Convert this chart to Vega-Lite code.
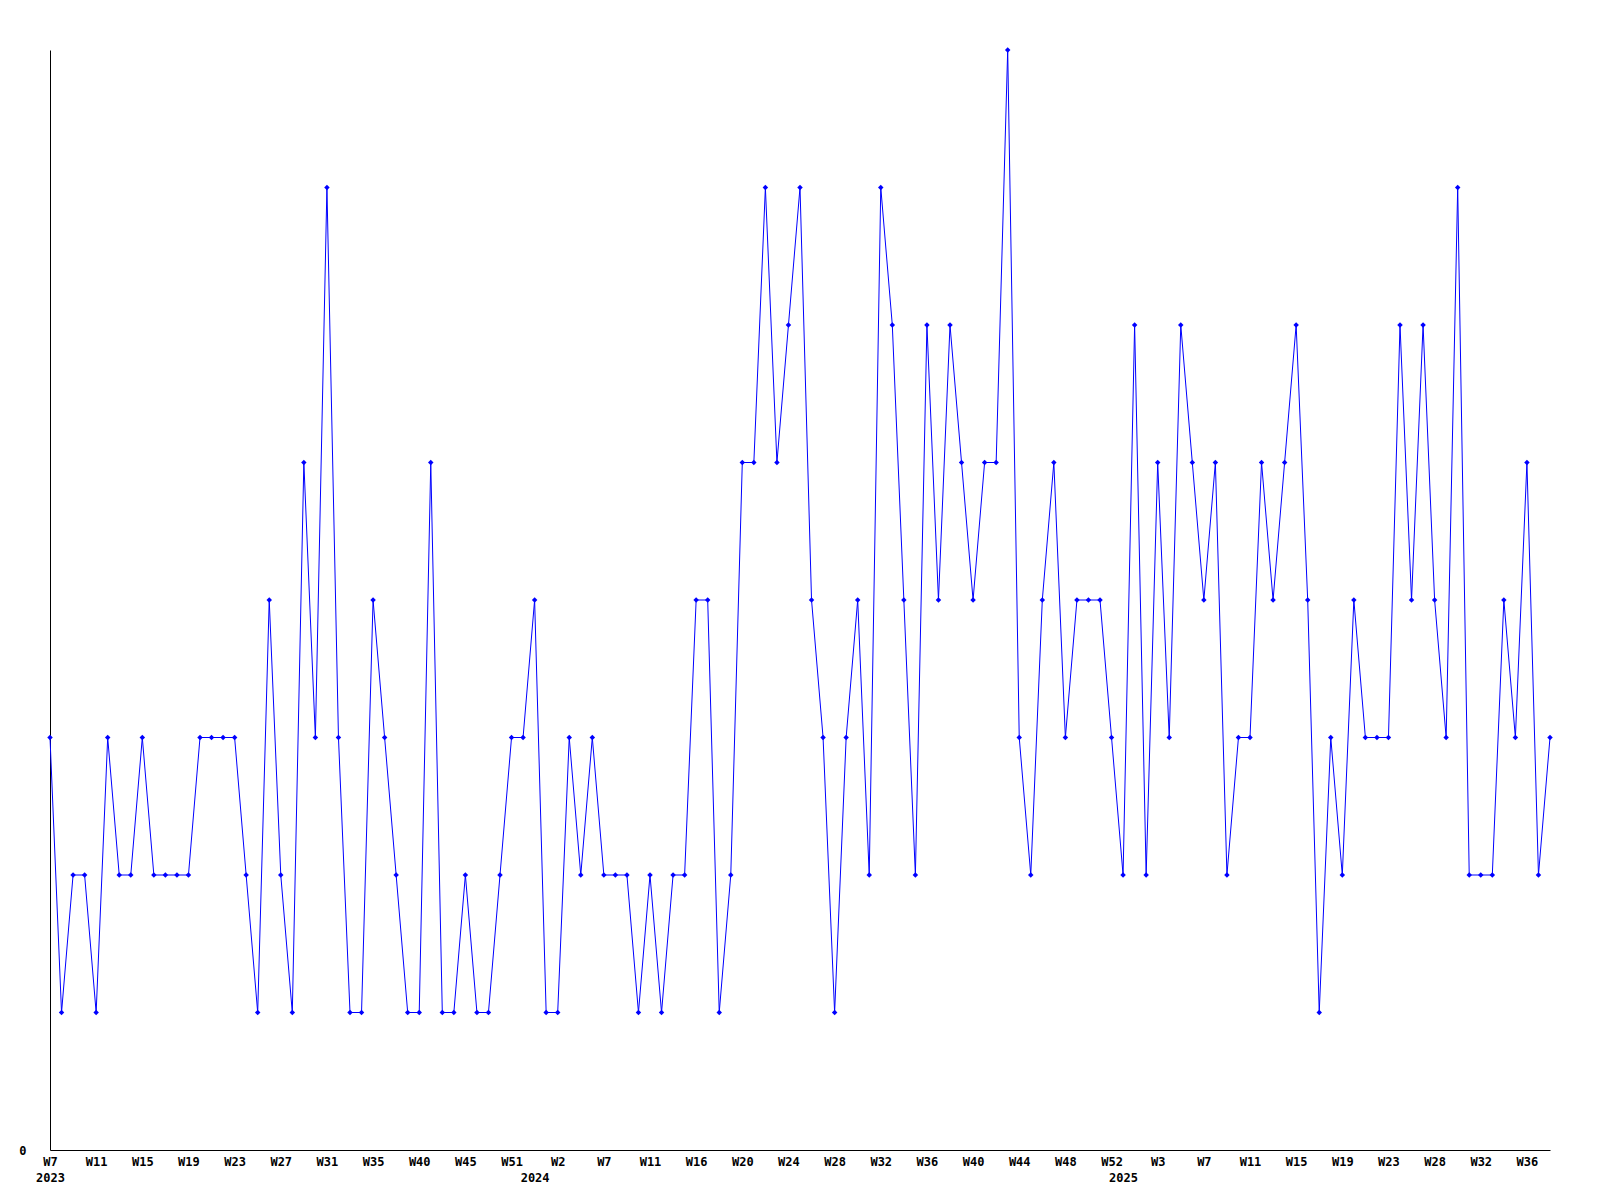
{
  "$schema": "https://vega.github.io/schema/vega-lite/v6.json",
  "width": 1500,
  "height": 1100,
  "autosize": "none",
  "padding": {"left": 50, "top": 50, "right": 50, "bottom": 50},
  "background": "white",
  "config": {"view": {"stroke": null}},
  "data": {"values": [
    {"week": "2023-W07", "n": 3}, {"week": "2023-W08", "n": 1}, {"week": "2023-W09", "n": 2}, {"week": "2023-W10", "n": 2},
    {"week": "2023-W11", "n": 1}, {"week": "2023-W12", "n": 3}, {"week": "2023-W13", "n": 2}, {"week": "2023-W14", "n": 2},
    {"week": "2023-W15", "n": 3}, {"week": "2023-W16", "n": 2}, {"week": "2023-W17", "n": 2}, {"week": "2023-W18", "n": 2},
    {"week": "2023-W19", "n": 2}, {"week": "2023-W20", "n": 3}, {"week": "2023-W21", "n": 3}, {"week": "2023-W22", "n": 3},
    {"week": "2023-W23", "n": 3}, {"week": "2023-W24", "n": 2}, {"week": "2023-W25", "n": 1}, {"week": "2023-W26", "n": 4},
    {"week": "2023-W27", "n": 2}, {"week": "2023-W28", "n": 1}, {"week": "2023-W29", "n": 5}, {"week": "2023-W30", "n": 3},
    {"week": "2023-W31", "n": 7}, {"week": "2023-W32", "n": 3}, {"week": "2023-W33", "n": 1}, {"week": "2023-W34", "n": 1},
    {"week": "2023-W35", "n": 4}, {"week": "2023-W36", "n": 3}, {"week": "2023-W37", "n": 2}, {"week": "2023-W38", "n": 1},
    {"week": "2023-W40", "n": 1}, {"week": "2023-W41", "n": 5}, {"week": "2023-W42", "n": 1}, {"week": "2023-W43", "n": 1},
    {"week": "2023-W45", "n": 2}, {"week": "2023-W46", "n": 1}, {"week": "2023-W47", "n": 1}, {"week": "2023-W49", "n": 2},
    {"week": "2023-W51", "n": 3}, {"week": "2023-W52", "n": 3}, {"week": "2024-W00", "n": 4}, {"week": "2024-W01", "n": 1},
    {"week": "2024-W02", "n": 1}, {"week": "2024-W03", "n": 3}, {"week": "2024-W04", "n": 2}, {"week": "2024-W06", "n": 3},
    {"week": "2024-W07", "n": 2}, {"week": "2024-W08", "n": 2}, {"week": "2024-W09", "n": 2}, {"week": "2024-W10", "n": 1},
    {"week": "2024-W11", "n": 2}, {"week": "2024-W12", "n": 1}, {"week": "2024-W13", "n": 2}, {"week": "2024-W15", "n": 2},
    {"week": "2024-W16", "n": 4}, {"week": "2024-W17", "n": 4}, {"week": "2024-W18", "n": 1}, {"week": "2024-W19", "n": 2},
    {"week": "2024-W20", "n": 5}, {"week": "2024-W21", "n": 5}, {"week": "2024-W22", "n": 7}, {"week": "2024-W23", "n": 5},
    {"week": "2024-W24", "n": 6}, {"week": "2024-W25", "n": 7}, {"week": "2024-W26", "n": 4}, {"week": "2024-W27", "n": 3},
    {"week": "2024-W28", "n": 1}, {"week": "2024-W29", "n": 3}, {"week": "2024-W30", "n": 4}, {"week": "2024-W31", "n": 2},
    {"week": "2024-W32", "n": 7}, {"week": "2024-W33", "n": 6}, {"week": "2024-W34", "n": 4}, {"week": "2024-W35", "n": 2},
    {"week": "2024-W36", "n": 6}, {"week": "2024-W37", "n": 4}, {"week": "2024-W38", "n": 6}, {"week": "2024-W39", "n": 5},
    {"week": "2024-W40", "n": 4}, {"week": "2024-W41", "n": 5}, {"week": "2024-W42", "n": 5}, {"week": "2024-W43", "n": 8},
    {"week": "2024-W44", "n": 3}, {"week": "2024-W45", "n": 2}, {"week": "2024-W46", "n": 4}, {"week": "2024-W47", "n": 5},
    {"week": "2024-W48", "n": 3}, {"week": "2024-W49", "n": 4}, {"week": "2024-W50", "n": 4}, {"week": "2024-W51", "n": 4},
    {"week": "2024-W52", "n": 3}, {"week": "2025-W00", "n": 2}, {"week": "2025-W01", "n": 6}, {"week": "2025-W02", "n": 2},
    {"week": "2025-W03", "n": 5}, {"week": "2025-W04", "n": 3}, {"week": "2025-W05", "n": 6}, {"week": "2025-W06", "n": 5},
    {"week": "2025-W07", "n": 4}, {"week": "2025-W08", "n": 5}, {"week": "2025-W09", "n": 2}, {"week": "2025-W10", "n": 3},
    {"week": "2025-W11", "n": 3}, {"week": "2025-W12", "n": 5}, {"week": "2025-W13", "n": 4}, {"week": "2025-W14", "n": 5},
    {"week": "2025-W15", "n": 6}, {"week": "2025-W16", "n": 4}, {"week": "2025-W17", "n": 1}, {"week": "2025-W18", "n": 3},
    {"week": "2025-W19", "n": 2}, {"week": "2025-W20", "n": 4}, {"week": "2025-W21", "n": 3}, {"week": "2025-W22", "n": 3},
    {"week": "2025-W23", "n": 3}, {"week": "2025-W24", "n": 6}, {"week": "2025-W25", "n": 4}, {"week": "2025-W27", "n": 6},
    {"week": "2025-W28", "n": 4}, {"week": "2025-W29", "n": 3}, {"week": "2025-W30", "n": 7}, {"week": "2025-W31", "n": 2},
    {"week": "2025-W32", "n": 2}, {"week": "2025-W33", "n": 2}, {"week": "2025-W34", "n": 4}, {"week": "2025-W35", "n": 3},
    {"week": "2025-W36", "n": 5}, {"week": "2025-W37", "n": 2}, {"week": "2025-W38", "n": 3}
  ]},
  "encoding": {
    "x": {
      "field": "week", "type": "ordinal", "sort": null,
      "scale": {"type": "point", "padding": 0},
      "axis": {
        "title": null,
        "values": ["2023-W07", "2023-W11", "2023-W15", "2023-W19", "2023-W23", "2023-W27", "2023-W31", "2023-W35", "2023-W40", "2023-W45", "2023-W51", "2024-W00", "2024-W02", "2024-W07", "2024-W11", "2024-W16", "2024-W20", "2024-W24", "2024-W28", "2024-W32", "2024-W36", "2024-W40", "2024-W44", "2024-W48", "2024-W52", "2025-W00", "2025-W03", "2025-W07", "2025-W11", "2025-W15", "2025-W19", "2025-W23", "2025-W28", "2025-W32", "2025-W36"],
        "labelExpr": "slice(datum.value, 6) == '00' ? ['', slice(datum.value, 0, 4)] : (datum.value == '2023-W07' ? ['W7', '2023'] : 'W' + toNumber(slice(datum.value, 6)))",
        "labelAngle": 0,
        "labelOverlap": false,
        "labelBound": false,
        "labelFlush": false,
        "labelFont": "DejaVu Sans Mono",
        "labelFontWeight": "bold",
        "labelFontSize": 12,
        "labelColor": "black",
        "labelLineHeight": 16,
        "labelPadding": 6,
        "ticks": false,
        "grid": false,
        "domainColor": "black",
        "domainWidth": 1
      }
    },
    "y": {
      "field": "n", "type": "quantitative",
      "scale": {"domain": [0, 8], "nice": false, "zero": true},
      "axis": {
        "title": null,
        "values": [0],
        "labelFont": "DejaVu Sans Mono",
        "labelFontWeight": "bold",
        "labelFontSize": 12,
        "labelColor": "black",
        "labelPadding": 24,
        "ticks": false,
        "grid": false,
        "domainColor": "black",
        "domainWidth": 1
      }
    }
  },
  "layer": [
    {"mark": {"type": "line", "color": "#0000ff", "strokeWidth": 1}},
    {"mark": {"type": "point", "shape": "diamond", "filled": true, "size": 30, "color": "#0000ff", "opacity": 1}}
  ]
}
